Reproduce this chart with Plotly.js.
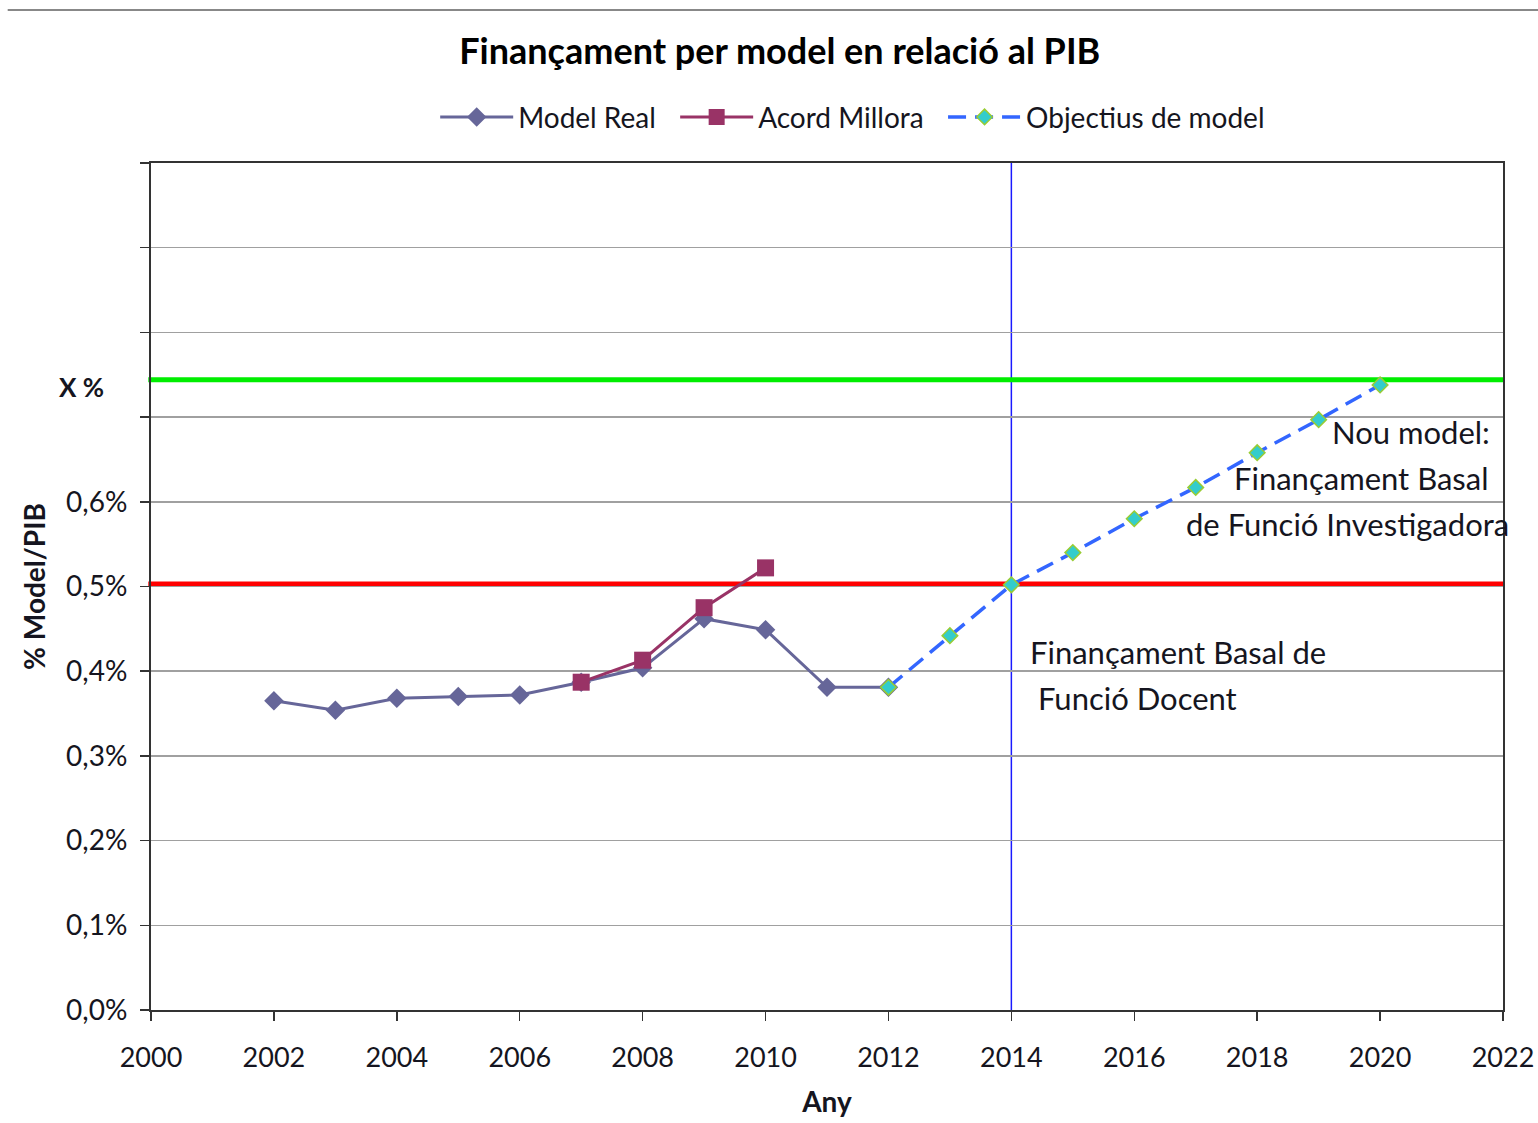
<!DOCTYPE html>
<html>
<head>
<meta charset="utf-8">
<script src="https://cdn.plot.ly/plotly-3.0.1.min.js"></script>
<style>html,body{margin:0;padding:0;background:#fff;}#chart{width:1538px;height:1123px;}</style>
</head>
<body>
<div id="chart"></div>
<script>
// Data (values in % of GDP)
const yearsReal = [2002, 2003, 2004, 2005, 2006, 2007, 2008, 2009, 2010, 2011, 2012];
const modelReal = [0.365, 0.354, 0.368, 0.370, 0.372, 0.387, 0.404, 0.462, 0.449, 0.381, 0.381];

const yearsAcord = [2007, 2008, 2009, 2010];
const acordMillora = [0.387, 0.413, 0.475, 0.522];

const yearsObj = [2012, 2013, 2014, 2015, 2016, 2017, 2018, 2019, 2020];
const objectius = [0.381, 0.442, 0.502, 0.540, 0.580, 0.617, 0.658, 0.697, 0.738];

const levelDocent = 0.503;     // red line
const levelX = 0.744;          // green line ("X %")
const yearSplit = 2014;        // blue vertical line

const yTickVals = [0, 0.1, 0.2, 0.3, 0.4, 0.5, 0.6, 0.7, 0.8, 0.9, 1.0];
const yTickText = ['0,0%', '0,1%', '0,2%', '0,3%', '0,4%', '0,5%', '0,6%', '', '', '', ''];
const xTickVals = [2000, 2002, 2004, 2006, 2008, 2010, 2012, 2014, 2016, 2018, 2020, 2022];

const FONT = 'Lato, "Open Sans", sans-serif';
const TXT = '#151520';
const GAP = '\u00a0\u00a0';

const traces = [
  {
    x: yearsReal, y: modelReal, name: 'Model Real' + GAP, type: 'scatter', mode: 'lines+markers',
    line: {color: '#666699', width: 3},
    marker: {symbol: 'diamond', size: 15, color: '#666699'}
  },
  {
    x: yearsAcord, y: acordMillora, name: 'Acord Millora' + GAP, type: 'scatter', mode: 'lines+markers',
    line: {color: '#993366', width: 3},
    marker: {symbol: 'square', size: 17, color: '#993366'}
  },
  {
    x: yearsObj, y: objectius, name: 'Objectius de model', type: 'scatter', mode: 'lines+markers',
    line: {color: '#3366ff', width: 3.5, dash: '18px,9px'},
    marker: {symbol: 'diamond', size: 12, color: '#33cccc', line: {color: '#99cc33', width: 1.5}}
  }
];

const layout = {
  width: 1538, height: 1123,
  paper_bgcolor: '#ffffff', plot_bgcolor: '#ffffff',
  margin: {l: 151, r: 35, t: 163, b: 113},
  font: {family: FONT, color: TXT},
  title: {
    text: '<b>Finançament per model en relació al PIB</b>',
    font: {family: FONT, size: 36, color: '#000000'},
    xref: 'container', x: 0.507, xanchor: 'center',
    yref: 'container', y: 0.954, yanchor: 'middle'
  },
  showlegend: true,
  legend: {
    orientation: 'h', x: 0.519, xanchor: 'center', y: 1.054, yanchor: 'middle',
    font: {family: FONT, size: 28, color: TXT},
    itemwidth: 73, traceorder: 'normal'
  },
  xaxis: {
    range: [2000, 2022],
    tickvals: xTickVals,
    ticktext: xTickVals.map(String),
    ticks: 'outside', ticklen: 9, tickwidth: 1.5, tickcolor: '#333',
    ticklabelstandoff: 14,
    showgrid: false, zeroline: false,
    showline: true, linecolor: '#333', linewidth: 2, mirror: true,
    tickfont: {family: FONT, size: 27, color: TXT},
    title: {text: '<b>Any</b>', font: {family: FONT, size: 28, color: TXT}, standoff: 20}
  },
  yaxis: {
    range: [0, 1.0],
    tickvals: yTickVals,
    ticktext: yTickText,
    ticks: 'outside', ticklen: 9, tickwidth: 1.5, tickcolor: '#333',
    ticklabelstandoff: 7,
    showgrid: true, gridcolor: '#a0a0a0', gridwidth: 1.5,
    zeroline: false,
    showline: true, linecolor: '#333', linewidth: 2, mirror: true,
    tickfont: {family: FONT, size: 28, color: TXT},
    title: {text: '<b>% Model/PIB</b>', font: {family: FONT, size: 28, color: TXT}, standoff: 12}
  },
  shapes: [
    {type: 'line', xref: 'x', yref: 'paper', x0: yearSplit, x1: yearSplit, y0: 0, y1: 1,
     line: {color: '#1a1aff', width: 1.5}, layer: 'below'},
    {type: 'line', xref: 'paper', yref: 'y', x0: -0.002, x1: 1.001, y0: levelDocent, y1: levelDocent,
     line: {color: '#ff0000', width: 5}, layer: 'below'},
    {type: 'line', xref: 'paper', yref: 'y', x0: -0.002, x1: 1.001, y0: levelX, y1: levelX,
     line: {color: '#00ee00', width: 5}, layer: 'below'},
    {type: 'line', xref: 'paper', yref: 'paper', x0: -0.106, x1: 1.03, y0: 1.1806, y1: 1.1806,
     line: {color: '#888888', width: 2}}
  ],
  annotations: [
    {xref: 'paper', yref: 'y', x: -0.033, y: levelX - 0.008, text: '<b>X %</b>', showarrow: false,
     xanchor: 'right', yanchor: 'middle', font: {family: FONT, size: 26, color: TXT}},
    {xref: 'x', yref: 'y', x: 2021.82, y: 0.682, text: 'Nou model:', showarrow: false,
     xanchor: 'right', yanchor: 'middle', font: {family: FONT, size: 31, color: TXT}},
    {xref: 'x', yref: 'y', x: 2021.79, y: 0.628, text: 'Finançament Basal', showarrow: false,
     xanchor: 'right', yanchor: 'middle', font: {family: FONT, size: 31, color: TXT}},
    {xref: 'x', yref: 'y', x: 2016.81, y: 0.574, text: 'de Funció Investigadora', showarrow: false,
     xanchor: 'left', yanchor: 'middle', font: {family: FONT, size: 31, color: TXT}},
    {xref: 'x', yref: 'y', x: 2014.27, y: 0.423, text: 'Finançament Basal de', showarrow: false,
     xanchor: 'left', yanchor: 'middle', font: {family: FONT, size: 31, color: TXT}},
    {xref: 'x', yref: 'y', x: 2014.40, y: 0.368, text: 'Funció Docent', showarrow: false,
     xanchor: 'left', yanchor: 'middle', font: {family: FONT, size: 31, color: TXT}}
  ]
};

Plotly.newPlot('chart', traces, layout, {displayModeBar: false, staticPlot: true});
</script>
</body>
</html>
